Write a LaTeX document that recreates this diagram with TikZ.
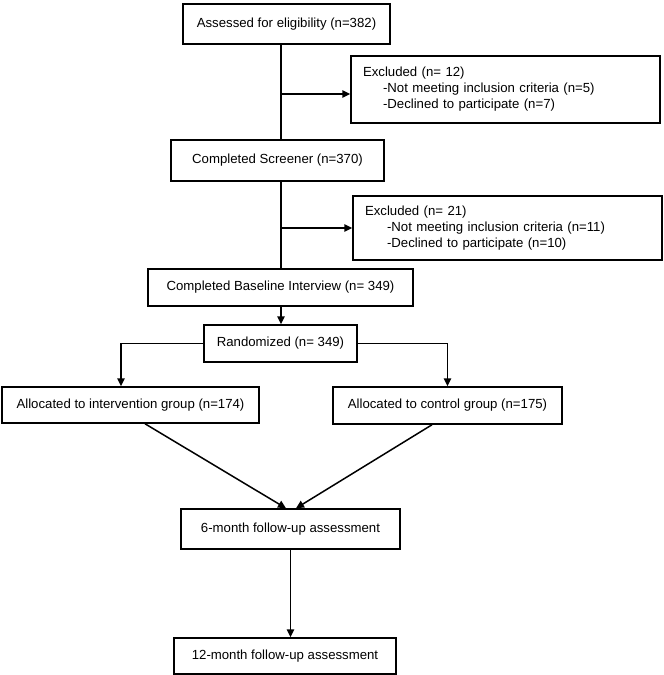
\documentclass[tikz,border=0pt]{standalone}
\usepackage{fontspec}
\setmainfont{Liberation Sans}
\usetikzlibrary{arrows.meta}
\begin{document}
\begin{tikzpicture}[x=1pt,y=-1pt,
  font=\fontsize{13.2}{16}\selectfont,
  box/.style={draw, line width=1.5pt, inner sep=0pt, align=center},
  exbox/.style={draw, line width=1.5pt, inner xsep=12pt, inner ysep=0pt, align=left, text width=285pt, minimum width=309pt},
  ln/.style={line width=1.5pt},
  arr/.style={line width=1.5pt, -{Triangle[length=8pt,width=7.5pt]}}]
\useasboundingbox (0,0) rectangle (664,675);

\node[box, minimum width=207pt, minimum height=40pt] (elig) at (286.5,24) {Assessed for eligibility (n=382)};
\node[exbox, minimum height=67pt] (ex1) at (505.5,89.5) {Excluded (n= 12)\\\hspace*{20pt}-Not meeting inclusion criteria (n=5)\\\hspace*{20pt}-Declined to participate (n=7)};
\node[box, minimum width=213pt, minimum height=41pt] (scr) at (277.5,160.5) {Completed Screener (n=370)};
\node[exbox, minimum height=64pt] (ex2) at (507.5,228) {Excluded (n= 21)\\\hspace*{22pt}-Not meeting inclusion criteria (n=11)\\\hspace*{22pt}-Declined to participate (n=10)};
\node[box, minimum width=265pt, minimum height=37pt] (base) at (280.5,287.5) {Completed Baseline Interview (n= 349)};
\node[box, minimum width=153pt, minimum height=37pt] (rand) at (280.5,343.5) {Randomized (n= 349)};
\node[box, minimum width=257pt, minimum height=36pt] (int) at (130.5,405) {Allocated to intervention group (n=174)};
\node[box, minimum width=229pt, minimum height=37pt] (ctl) at (447.5,405.5) {Allocated to control group (n=175)};
\node[box, minimum width=219pt, minimum height=40pt] (six) at (290.5,529) {6-month follow-up assessment};
\node[box, minimum width=222pt, minimum height=36pt] (twelve) at (285,656) {12-month follow-up assessment};

\coordinate (trunk) at (281,0);
\coordinate (ex1in) at ([yshift=-4.5pt]ex1.west);
\coordinate (intin) at ([xshift=-9.5pt]int.north);
\coordinate (intout) at ([xshift=14.5pt]int.south);
\coordinate (ctlout) at ([xshift=-15.5pt]ctl.south);
\coordinate (sixinL) at ([xshift=-4.5pt]six.north);
\coordinate (sixinR) at ([xshift=5.5pt]six.north);

\draw[ln] (elig.south -| trunk) -- (scr.north -| trunk);
\draw[arr] (trunk |- ex1in) -- (ex1in);
\draw[ln] (scr.south -| trunk) -- (base.north -| trunk);
\draw[arr] (trunk |- ex2.west) -- (ex2.west);
\draw[arr] (base.south -| trunk) -- (rand.north -| trunk);
\draw[arr] (rand.west) -| (intin);
\draw[arr] (rand.east) -| (ctl.north);
\draw[arr] (intout) -- (sixinL);
\draw[arr] (ctlout) -- (sixinR);
\draw[arr] (six.south) -- (six.south |- twelve.north);
\end{tikzpicture}
\end{document}
